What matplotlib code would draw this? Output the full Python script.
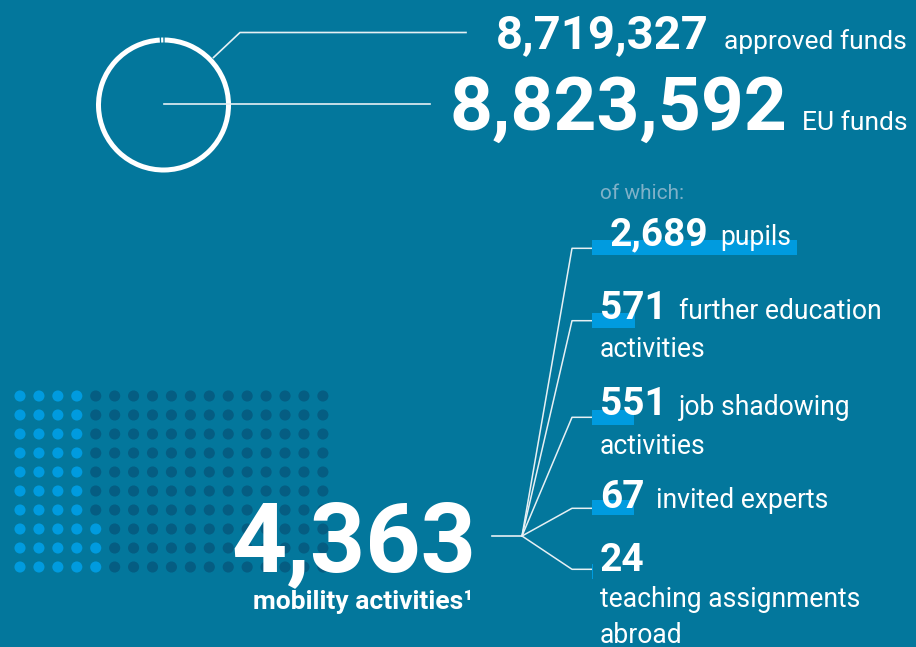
import matplotlib
matplotlib.use("Agg")
import matplotlib.pyplot as plt
from matplotlib.patches import Wedge, Rectangle
import numpy as np

# ---- data ----
approved_funds = 8719327
eu_funds = 8823592
approved_label = "8,719,327"
eu_label = "8,823,592"
mobility_total_label = "4,363"
dot_total = 170          # 17 columns x 10 rows
dot_highlight = 43       # highlighted dots
breakdown_numbers = ["2,689", "571", "551", "67", "24"]
breakdown_values = [2689, 571, 551, 67, 24]
bar_lengths = [2689, 571, 551, 551, 24]   # bar lengths as drawn in the picture
breakdown_labels = ["pupils", "further education", "job shadowing", "invited experts", ""]
breakdown_second = [[], ["activities"], ["activities"], [], ["teaching assignments", "abroad"]]

BG = "#03779c"
LIGHT = "#009bdf"
DARK = "#055d82"
WHITE = "white"
LINE = "#e6f0f4"

plt.rcParams['font.family'] = ['Roboto', 'DejaVu Sans']

W, H = 916, 647
fig = plt.figure(figsize=(W / 100, H / 100), dpi=100, facecolor=BG)
ax = fig.add_axes([0, 0, 1, 1])
ax.set_facecolor(BG)
ax.set_xlim(0, W)
ax.set_ylim(H, 0)
ax.axis('off')

# ---- ring ----
cx, cy, r_out, ring_w = 163.5, 105.0, 67.5, 5.0
span = 360.0 * approved_funds / eu_funds
start_screen = 89.0  # screen angle (ccw, y up) where arc starts, going clockwise
theta1 = -start_screen
theta2 = theta1 + span
ax.add_patch(Wedge((cx, cy), r_out, theta1, theta2, width=ring_w, facecolor=WHITE, edgecolor='none'))
# tick in gap
ta = np.deg2rad(-(start_screen + (360 - span) / 2))
ax.plot([cx + (r_out - ring_w) * np.cos(ta), cx + r_out * np.cos(ta)],
        [cy + (r_out - ring_w) * np.sin(ta), cy + r_out * np.sin(ta)],
        color=WHITE, lw=1.6, solid_capstyle='butt')

# connector lines top
ax.plot([213.5, 240, 466], [57.5, 32.5, 32.5], color=LINE, lw=1.2)
ax.plot([164, 430], [104, 104], color=LINE, lw=1.2)

fig.canvas.draw()
renderer = fig.canvas.get_renderer()
inv = ax.transData.inverted()


def text_x_extent(t):
    bb = t.get_window_extent(renderer=renderer)
    x0 = inv.transform((bb.x0, bb.y0))[0]
    x1 = inv.transform((bb.x1, bb.y0))[0]
    return x0, x1

# top texts (right aligned)
t1 = ax.text(907, 48.5, "approved funds", ha='right', va='baseline', color=WHITE, fontsize=19)
x0, _ = text_x_extent(t1)
ax.text(x0 - 16, 48.5, approved_label, ha='right', va='baseline', color=WHITE, fontsize=34, fontweight='bold')
t2 = ax.text(907, 130, "EU funds", ha='right', va='baseline', color=WHITE, fontsize=19)
x0, _ = text_x_extent(t2)
ax.text(x0 - 14, 130, eu_label, ha='right', va='baseline', color=WHITE, fontsize=54, fontweight='bold')

# ---- dot grid ----
ncols, nrows = 17, 10
x_start, y_start, step_x, step_y = 20.0, 396.0, 18.93, 19.0
idx = np.arange(dot_total)
col = idx // nrows
row_from_bottom = idx % nrows
xs = x_start + col * step_x
ys = y_start + (nrows - 1 - row_from_bottom) * step_y
colors = [LIGHT if i < dot_highlight else DARK for i in idx]
ax.scatter(xs, ys, s=64, c=colors, linewidths=0, zorder=1)

# big number
ax.text(476, 571.5, mobility_total_label, ha='right', va='baseline', color=WHITE,
        fontsize=69.5, fontweight='bold', zorder=3)
ax.text(473.5, 608.5, "mobility activities\u00b9", ha='right', va='baseline', color=WHITE,
        fontsize=19, fontweight='bold', zorder=3)

# ---- breakdown ----
hub = (522, 536)
ax.plot([492, hub[0]], [hub[1], hub[1]], color=LINE, lw=1.2)
bar_y = [247, 320.5, 417, 507.5, 571]
conn_y = [248.3, 320.7, 417.3, 508.3, 569.3]
bar_h = 15
bar_x0 = 591.5
bar_scale = 205.0 / bar_lengths[0]
num_x = [610, 600.5, 600.5, 600, 600]
num_base = [245, 319.3, 415, 507.7, 570.7]
second_base = [[], [356.7], [454], [], [606.7, 643]]

ax.text(600.5, 199, "of which:", ha='left', va='baseline', color="#7fb1c8", fontsize=15)

for i in range(len(breakdown_values)):
    ax.plot([hub[0], 572, bar_x0], [hub[1], conn_y[i], conn_y[i]], color=LINE, lw=1.1, zorder=2)
    ax.add_patch(Rectangle((bar_x0, bar_y[i] - bar_h / 2), bar_lengths[i] * bar_scale, bar_h,
                           facecolor=LIGHT, edgecolor='none', zorder=2))
    tn = ax.text(num_x[i], num_base[i], breakdown_numbers[i], ha='left', va='baseline', color=WHITE,
                 fontsize=28, fontweight='bold', zorder=3)
    if breakdown_labels[i]:
        _, x1 = text_x_extent(tn)
        ax.text(x1 + 11.5, num_base[i], breakdown_labels[i], ha='left', va='baseline', color=WHITE,
                fontsize=19.1, zorder=3)
    for line_txt, yb in zip(breakdown_second[i], second_base[i]):
        ax.text(600, yb, line_txt, ha='left', va='baseline', color=WHITE,
                fontsize=19.1, zorder=3)

fig.savefig("out.png", dpi=100, facecolor=BG)
